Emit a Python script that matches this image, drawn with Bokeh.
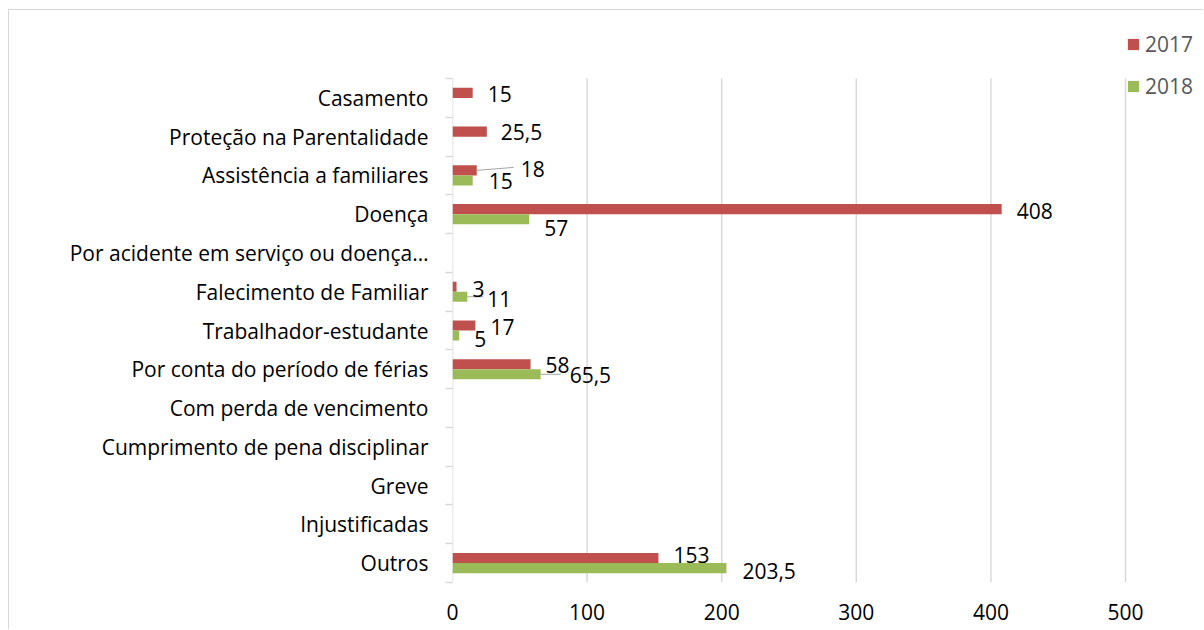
from bokeh.plotting import figure
from bokeh.models import (ColumnDataSource, Range1d, FixedTicker, Legend, LegendItem)
from bokeh.core.properties import value
from bokeh.embed import file_html
from bokeh.resources import INLINE

# ---------------- data ----------------
categories = [
    "Casamento",
    "Proteção na Parentalidade",
    "Assistência a familiares",
    "Doença",
    "Por acidente em serviço ou doença…",
    "Falecimento de Familiar",
    "Trabalhador-estudante",
    "Por conta do período de férias",
    "Com perda de vencimento",
    "Cumprimento de pena disciplinar",
    "Greve",
    "Injustificadas",
    "Outros",
]
values_2017 = [15, 25.5, 18, 408, None, 3, 17, 58, None, None, None, None, 153]
values_2018 = [None, None, 15, 57, None, 11, 5, 65.5, None, None, None, None, 203.5]
x_ticks = [0, 100, 200, 300, 400, 500]
x_max = 500

# label placement (screen px offsets from bar end / bar centre)
lab17_dx = [15, 14, 44, 15, 0, 16, 15, 15, 0, 0, 0, 0, 15]
lab17_dy = [1, 0, -1, 2, 0, 2, 1.5, 1, 0, 0, 0, 0, -3.5]
lab18_dx = [0, 0, 16, 15, 0, 20, 15, 29, 0, 0, 0, 0, 16]
lab18_dy = [0, 0, 1, 8.5, 0, 2.5, 3, 1, 0, 0, 0, 0, 3]
# leader lines: (series, index, dx_px, dy_px)
leaders = [("2017", 2, 37, -3), ("2018", 5, 16, 0), ("2018", 7, 20, 0)]

FONT = "Open Sans"
FS = "21px"
RED = "#C0504D"
GREEN = "#9BBB59"
GRID = "#D9D9D9"

n = len(categories)
BAR = 0.26

# geometry (figure-internal pixels)
W = 1195
H = 620
LEFT = 443          # frame left
TOP = 20            # frame top (frame extended upward to host the legend)
BOTTOM = 48
PLOT_W = 673        # width covering 0..x_max
PLOT_H = 504        # height covering the 13 categories
EXTRA_TOP = 48      # px above the first category band

px_per_x = PLOT_W / float(x_max)
px_per_y = PLOT_H / float(n)
frame_w = W - LEFT

p = figure(width=W, height=H, output_backend="svg", toolbar_location=None,
           x_range=Range1d(0, frame_w / px_per_x),
           y_range=Range1d(n - 0.5, -0.5 - EXTRA_TOP / px_per_y),
           min_border_left=LEFT, min_border_right=0,
           min_border_top=TOP, min_border_bottom=BOTTOM)
p.margin = (9, 0, 0, 8)
p.styles = {"border-top": "1px solid #D9D9D9", "border-left": "1px solid #D9D9D9"}
p.outline_line_color = None
p.background_fill_color = "white"
p.border_fill_color = "white"

def fmt(v):
    return ("%g" % v).replace(".", ",")

def build(vals, off, dxs, dys):
    d = dict(y=[], right=[], txt=[], dx=[], dy=[])
    for i, v in enumerate(vals):
        if v is None:
            continue
        d["y"].append(i + off)
        d["right"].append(v)
        d["txt"].append(fmt(v))
        d["dx"].append(dxs[i])
        d["dy"].append(dys[i])
    return ColumnDataSource(d)

# gridlines and value axis line, limited to the category area
p.segment(x0=x_ticks, x1=x_ticks, y0=[-0.5] * len(x_ticks), y1=[n - 0.5] * len(x_ticks),
          line_color=GRID, line_width=1.5)

s17 = build(values_2017, -BAR / 2, lab17_dx, lab17_dy)
s18 = build(values_2018, BAR / 2, lab18_dx, lab18_dy)

r17 = p.hbar(y="y", right="right", left=0, height=BAR, source=s17,
             fill_color=RED, line_color=None)
r18 = p.hbar(y="y", right="right", left=0, height=BAR, source=s18,
             fill_color=GREEN, line_color=None)

# leader lines
lx0, ly0, lx1, ly1 = [], [], [], []
for ser, i, dx, dy in leaders:
    vals = values_2017 if ser == "2017" else values_2018
    off = -BAR / 2 if ser == "2017" else BAR / 2
    v = vals[i]
    lx0.append(v)
    ly0.append(i + off)
    lx1.append(v + dx / px_per_x)
    ly1.append(i + off + dy / px_per_y)
p.segment(x0=lx0, y0=ly0, x1=lx1, y1=ly1, line_color="#A6A6A6", line_width=1)

for src in (s17, s18):
    p.text(x="right", y="y", text="txt", source=src, x_offset="dx", y_offset="dy",
           text_font=value(FONT), text_font_size=FS, text_color="#000000",
           text_align="left", text_baseline="middle")

# axes
p.xaxis.ticker = FixedTicker(ticks=x_ticks)
p.xaxis.axis_line_color = None
p.xaxis.major_tick_line_color = None
p.xaxis.major_tick_out = 0
p.xaxis.minor_tick_line_color = None
p.xaxis.major_label_text_font = FONT
p.xaxis.major_label_text_font_size = FS
p.xaxis.major_label_text_color = "#000000"
p.xaxis.major_label_standoff = 21

centers = list(range(n))
bounds = [i - 0.5 for i in range(n + 1)]
p.yaxis.ticker = FixedTicker(ticks=centers, minor_ticks=bounds)
p.yaxis.major_label_overrides = {i: c for i, c in enumerate(categories)}
p.yaxis.axis_line_color = None
p.yaxis.major_tick_line_color = None
p.yaxis.major_tick_out = 0
p.yaxis.major_tick_in = 0
p.yaxis.minor_tick_line_color = GRID
p.yaxis.minor_tick_line_width = 1.5
p.yaxis.minor_tick_out = 7
p.yaxis.minor_tick_in = 0
p.yaxis.major_label_text_font = FONT
p.yaxis.major_label_text_font_size = FS
p.yaxis.major_label_text_color = "#000000"
p.yaxis.major_label_standoff = 17

p.xgrid.grid_line_color = None
p.ygrid.grid_line_color = None

# legend: sits above the category area, at the top right
legend = Legend(items=[LegendItem(label="2017", renderers=[r17]),
                       LegendItem(label="2018", renderers=[r18])],
                location=(674, 482),
                orientation="vertical",
                padding=0, margin=0, spacing=14,
                glyph_width=14, glyph_height=14, label_height=26,
                label_standoff=5, border_line_color=None,
                background_fill_alpha=0,
                label_text_font=FONT, label_text_font_size=FS,
                label_text_color="#595959")
p.add_layout(legend, "center")

open("out.html", "w").write(file_html(p, INLINE))
